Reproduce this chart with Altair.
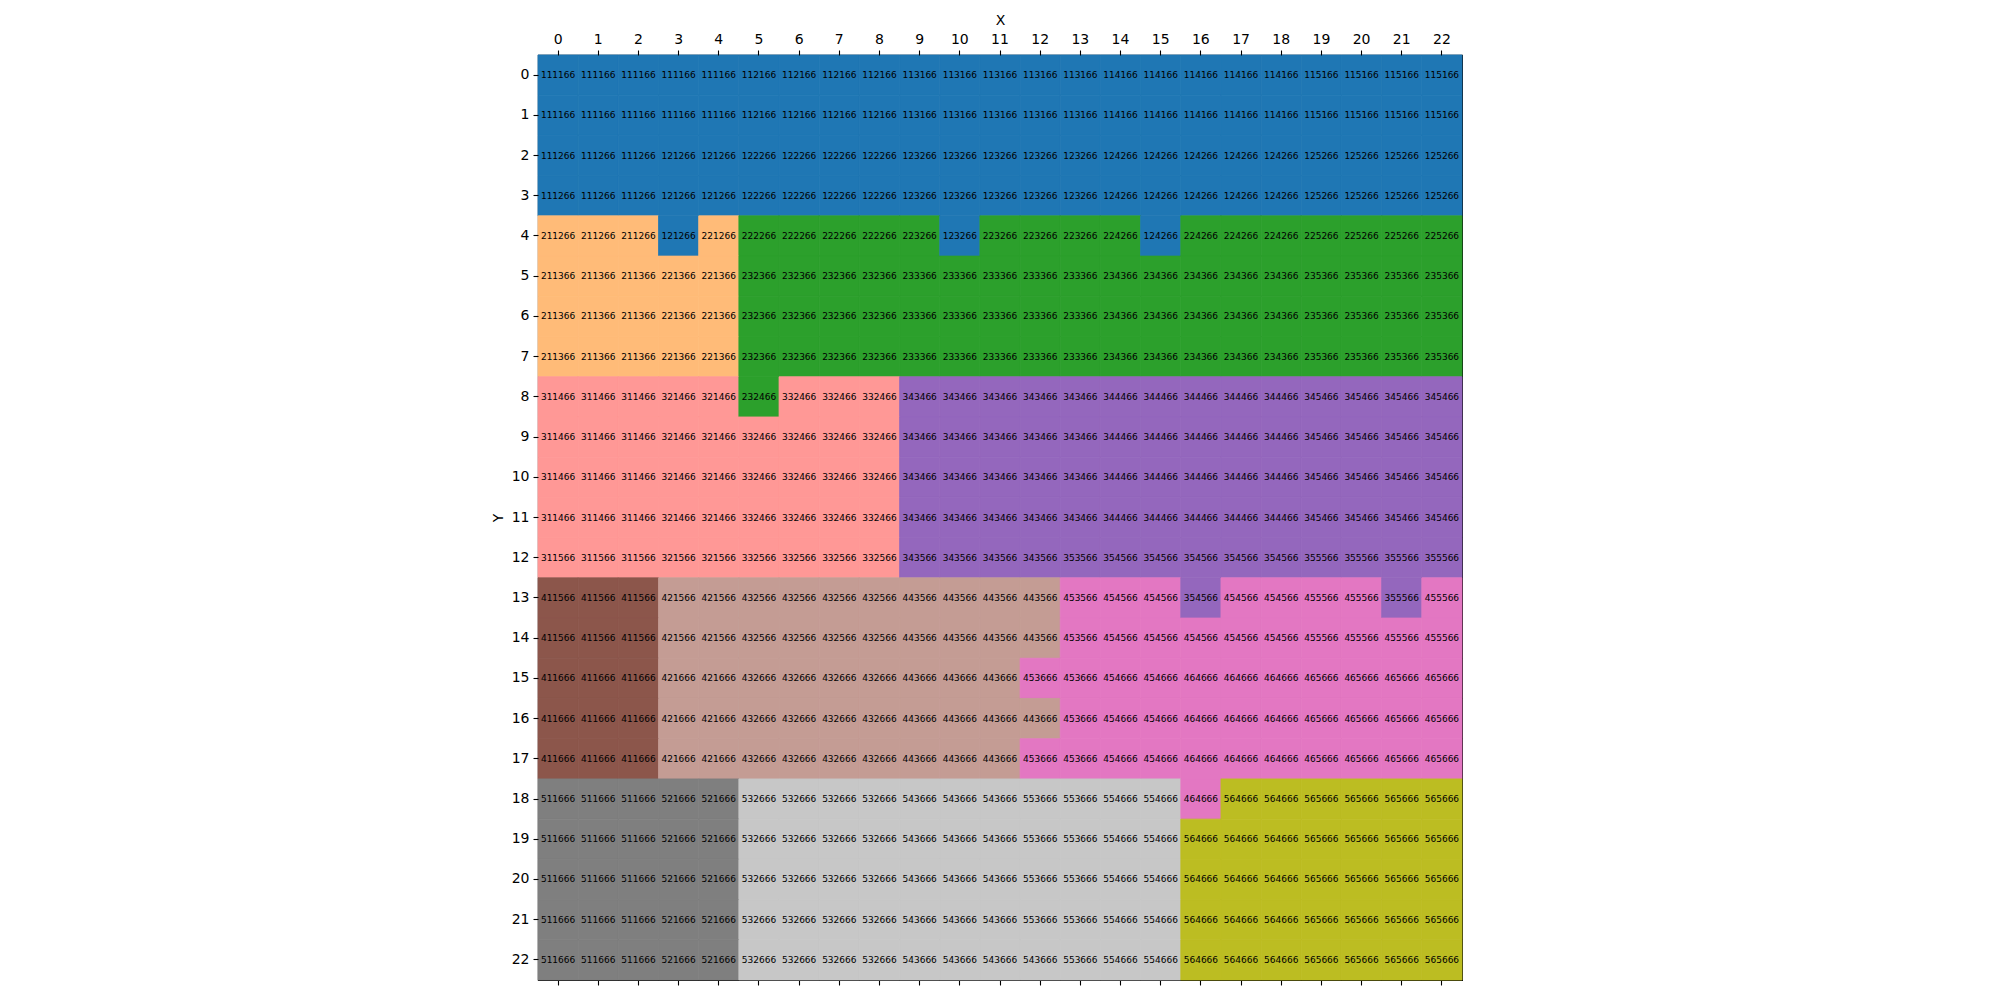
import altair as alt
import pandas as pd

label_rows = [
    "111166 111166 111166 111166 111166 112166 112166 112166 112166 113166 113166 113166 113166 113166 114166 114166 114166 114166 114166 115166 115166 115166 115166",
    "111166 111166 111166 111166 111166 112166 112166 112166 112166 113166 113166 113166 113166 113166 114166 114166 114166 114166 114166 115166 115166 115166 115166",
    "111266 111266 111266 121266 121266 122266 122266 122266 122266 123266 123266 123266 123266 123266 124266 124266 124266 124266 124266 125266 125266 125266 125266",
    "111266 111266 111266 121266 121266 122266 122266 122266 122266 123266 123266 123266 123266 123266 124266 124266 124266 124266 124266 125266 125266 125266 125266",
    "211266 211266 211266 121266 221266 222266 222266 222266 222266 223266 123266 223266 223266 223266 224266 124266 224266 224266 224266 225266 225266 225266 225266",
    "211366 211366 211366 221366 221366 232366 232366 232366 232366 233366 233366 233366 233366 233366 234366 234366 234366 234366 234366 235366 235366 235366 235366",
    "211366 211366 211366 221366 221366 232366 232366 232366 232366 233366 233366 233366 233366 233366 234366 234366 234366 234366 234366 235366 235366 235366 235366",
    "211366 211366 211366 221366 221366 232366 232366 232366 232366 233366 233366 233366 233366 233366 234366 234366 234366 234366 234366 235366 235366 235366 235366",
    "311466 311466 311466 321466 321466 232466 332466 332466 332466 343466 343466 343466 343466 343466 344466 344466 344466 344466 344466 345466 345466 345466 345466",
    "311466 311466 311466 321466 321466 332466 332466 332466 332466 343466 343466 343466 343466 343466 344466 344466 344466 344466 344466 345466 345466 345466 345466",
    "311466 311466 311466 321466 321466 332466 332466 332466 332466 343466 343466 343466 343466 343466 344466 344466 344466 344466 344466 345466 345466 345466 345466",
    "311466 311466 311466 321466 321466 332466 332466 332466 332466 343466 343466 343466 343466 343466 344466 344466 344466 344466 344466 345466 345466 345466 345466",
    "311566 311566 311566 321566 321566 332566 332566 332566 332566 343566 343566 343566 343566 353566 354566 354566 354566 354566 354566 355566 355566 355566 355566",
    "411566 411566 411566 421566 421566 432566 432566 432566 432566 443566 443566 443566 443566 453566 454566 454566 354566 454566 454566 455566 455566 355566 455566",
    "411566 411566 411566 421566 421566 432566 432566 432566 432566 443566 443566 443566 443566 453566 454566 454566 454566 454566 454566 455566 455566 455566 455566",
    "411666 411666 411666 421666 421666 432666 432666 432666 432666 443666 443666 443666 453666 453666 454666 454666 464666 464666 464666 465666 465666 465666 465666",
    "411666 411666 411666 421666 421666 432666 432666 432666 432666 443666 443666 443666 443666 453666 454666 454666 464666 464666 464666 465666 465666 465666 465666",
    "411666 411666 411666 421666 421666 432666 432666 432666 432666 443666 443666 443666 453666 453666 454666 454666 464666 464666 464666 465666 465666 465666 465666",
    "511666 511666 511666 521666 521666 532666 532666 532666 532666 543666 543666 543666 553666 553666 554666 554666 464666 564666 564666 565666 565666 565666 565666",
    "511666 511666 511666 521666 521666 532666 532666 532666 532666 543666 543666 543666 553666 553666 554666 554666 564666 564666 564666 565666 565666 565666 565666",
    "511666 511666 511666 521666 521666 532666 532666 532666 532666 543666 543666 543666 553666 553666 554666 554666 564666 564666 564666 565666 565666 565666 565666",
    "511666 511666 511666 521666 521666 532666 532666 532666 532666 543666 543666 543666 553666 553666 554666 554666 564666 564666 564666 565666 565666 565666 565666",
    "511666 511666 511666 521666 521666 532666 532666 532666 532666 543666 543666 543666 543666 553666 554666 554666 564666 564666 564666 565666 565666 565666 565666",
]

color_rows = [
    "AAAAAAAAAAAAAAAAAAAAAAA",
    "AAAAAAAAAAAAAAAAAAAAAAA",
    "AAAAAAAAAAAAAAAAAAAAAAA",
    "AAAAAAAAAAAAAAAAAAAAAAA",
    "BBBABCCCCCACCCCACCCCCCC",
    "BBBBBCCCCCCCCCCCCCCCCCC",
    "BBBBBCCCCCCCCCCCCCCCCCC",
    "BBBBBCCCCCCCCCCCCCCCCCC",
    "DDDDDCDDDEEEEEEEEEEEEEE",
    "DDDDDDDDDEEEEEEEEEEEEEE",
    "DDDDDDDDDEEEEEEEEEEEEEE",
    "DDDDDDDDDEEEEEEEEEEEEEE",
    "DDDDDDDDDEEEEEEEEEEEEEE",
    "FFFGGGGGGGGGGHHHEHHHHEH",
    "FFFGGGGGGGGGGHHHHHHHHHH",
    "FFFGGGGGGGGGHHHHHHHHHHH",
    "FFFGGGGGGGGGGHHHHHHHHHH",
    "FFFGGGGGGGGGHHHHHHHHHHH",
    "IIIIIJJJJJJJJJJJHKKKKKK",
    "IIIIIJJJJJJJJJJJKKKKKKK",
    "IIIIIJJJJJJJJJJJKKKKKKK",
    "IIIIIJJJJJJJJJJJKKKKKKK",
    "IIIIIJJJJJJJJJJJKKKKKKK",
]

group_codes = ["A", "B", "C", "D", "E", "F", "G", "H", "I", "J", "K"]
group_colors = ["#1f77b4", "#ffbb78", "#2ca02c", "#ff9896", "#9467bd", "#8c564b",
                "#c49c94", "#e377c2", "#7f7f7f", "#c7c7c7", "#bcbd22"]

records = []
for r, (lrow, crow) in enumerate(zip(label_rows, color_rows)):
    for c, (lab, grp) in enumerate(zip(lrow.split(), crow)):
        records.append({"X": c, "Y": r, "label": lab, "group": grp})
df = pd.DataFrame(records)

FONT = "DejaVu Sans"
idx = list(range(23))

axis_common = dict(
    labelFont=FONT, labelFontSize=14, labelColor="black",
    titleFont=FONT, titleFontSize=14, titleColor="black", titleFontWeight="normal",
    domainColor="black", tickColor="black", tickSize=5, tickWidth=1.1,
    labelPadding=4, grid=False, domain=False,
)

y_enc = alt.Y("Y:O", scale=alt.Scale(domain=idx, paddingInner=0, paddingOuter=0),
              axis=alt.Axis(orient="left", title="Y", labelAngle=0, titlePadding=6, **axis_common))

color_scale = alt.Scale(domain=group_codes, range=group_colors)

rects = alt.Chart(df).mark_rect(strokeWidth=0.8).encode(
    x=alt.X("X:O", scale=alt.Scale(domain=idx, paddingInner=0, paddingOuter=0),
            axis=alt.Axis(orient="top", title="X", labelAngle=0, titlePadding=5, **axis_common)),
    y=y_enc,
    color=alt.Color("group:N", scale=color_scale, legend=None),
    stroke=alt.Stroke("group:N", scale=color_scale, legend=None),
)

texts = alt.Chart(df).mark_text(font=FONT, fontSize=9, color="black",
                                align="center", baseline="middle").encode(
    x=alt.X("X:O", scale=alt.Scale(domain=idx, paddingInner=0, paddingOuter=0),
            axis=alt.Axis(orient="bottom", title=None, labels=False, **axis_common)),
    y=y_enc,
    text="label:N",
)

chart = alt.layer(rects, texts).resolve_axis(x="independent").properties(
    width=924, height=925,
    autosize=alt.AutoSizeParams(type="none"),
    padding={"left": 538, "top": 55, "right": 538, "bottom": 20},
    background="white",
).configure_view(stroke="black", strokeWidth=1.1)

chart.save("out.html", embed_options={"renderer": "svg", "actions": False})
